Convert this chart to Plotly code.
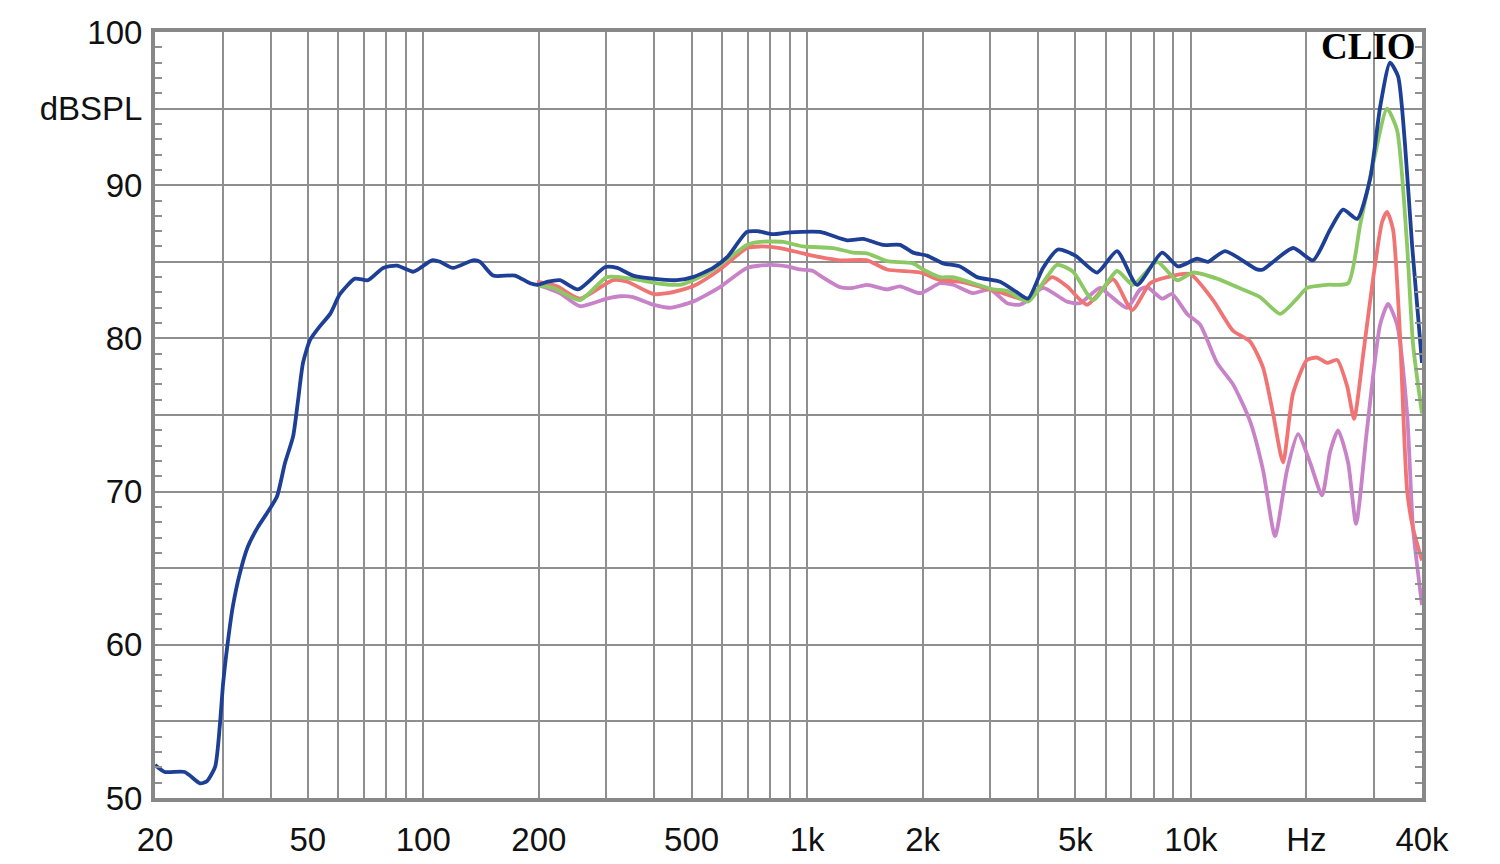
import plotly.graph_objects as go

# ---- data (frequency in Hz, level in dBSPL) ----
blue_f = [20, 21.2, 23.9, 26.2, 27.3, 28.7, 29.5, 30.1, 31.0, 31.9, 33.3, 34.9, 37.1, 39.4, 41.6, 43.6,
          45.8, 47.2, 48.6, 50.7, 53.8, 57.2, 60.7, 66.4, 71.8, 78.6, 85.4, 94.0, 96.9, 105.4, 110.6,
          119.5, 134.8, 140.6, 152, 173.4, 189.7, 199, 211, 227, 253, 298, 320, 352, 397, 458, 504,
          569, 619, 697, 741, 815, 887, 1081, 1271, 1399, 1577, 1747, 1888, 2053, 2260, 2502, 2772,
          3182, 3524, 3764, 4118, 4506, 5000, 5694, 6420, 7240, 8412, 9260, 10376, 11084, 12272,
          14868, 15414, 18452, 20808, 23044, 24916, 27096, 29296, 31110, 33024, 34652, 36136,
          37684, 40000]
blue_db = [52.15, 51.7, 51.7, 50.96, 51.1, 52.05, 54.7, 57.5, 60.3, 62.5, 64.7, 66.4, 67.7, 68.7, 69.7,
           71.85, 73.6, 76.0, 78.4, 79.9, 80.8, 81.6, 82.9, 83.9, 83.8, 84.6, 84.75, 84.35, 84.5, 85.1,
           85.0, 84.6, 85.1, 85.0, 84.1, 84.1, 83.6, 83.5, 83.7, 83.8, 83.2, 84.66, 84.6, 84.1, 83.9,
           83.8, 84.0, 84.6, 85.3, 86.95, 87.0, 86.8, 86.9, 86.95, 86.4, 86.5, 86.1, 86.1, 85.6, 85.4,
           84.9, 84.7, 84.0, 83.7, 83.0, 82.6, 84.6, 85.8, 85.4, 84.3, 85.7, 83.5, 85.6, 84.7, 85.2,
           85.0, 85.7, 84.5, 84.5, 85.9, 85.1, 87.1, 88.4, 87.8, 90.4, 95.1, 98.0, 97.1, 92.6, 86.1,
           78.4]

green_f = [198, 218, 256, 301, 346, 421, 467, 536, 593, 697, 754, 866, 976, 1168, 1317, 1433, 1615,
           1888, 2005, 2220, 2400, 2706, 3052, 3318, 3764, 4480, 4932, 5560, 6420, 7068, 8162, 9204,
           10130, 11698, 13190, 15140, 17070, 18900, 20074, 22632, 25674, 27590, 29828, 32436,
           34440, 36572, 37910, 40000]
green_db = [83.5, 83.3, 82.5, 84.0, 83.9, 83.55, 83.5, 84.1, 84.8, 86.1, 86.3, 86.3, 86.0, 85.9, 85.6,
            85.55, 85.05, 84.9, 84.5, 84.0, 84.0, 83.6, 83.2, 83.1, 82.4, 84.8, 84.35, 82.5, 84.4,
            83.5, 85.0, 83.8, 84.3, 83.9, 83.35, 82.7, 81.6, 82.6, 83.3, 83.5, 83.6, 87.4, 91.4, 95.0,
            93.6, 86.1, 79.6, 75.1]

red_f = [198, 223, 256, 312, 340, 397, 432, 504, 593, 697, 754, 850, 976, 1081, 1218, 1433, 1615,
         1969, 2220, 2502, 3182, 3588, 3764, 4346, 4756, 5364, 6268, 7026, 7828, 8668, 9950, 11420,
         12875, 14256, 15414, 16366, 17380, 18452, 20074, 21312, 22632, 24032, 25520, 26614, 28092,
         29828, 31486, 32436, 33624, 35068, 36572, 37910, 40000]
red_db = [83.7, 83.4, 82.6, 83.8, 83.7, 82.9, 82.95, 83.4, 84.5, 85.9, 86.0, 85.9, 85.55, 85.3, 85.1,
          85.1, 84.5, 84.3, 83.8, 83.7, 83.0, 82.6, 82.6, 84.0, 83.4, 82.2, 83.85, 81.85, 83.6, 84.0,
          84.2, 82.5, 80.5, 79.8, 78.1, 75.1, 71.9, 76.4, 78.6, 78.75, 78.4, 78.6, 76.9, 74.75, 78.9,
          83.9, 87.6, 88.25, 87.1, 80.1, 70.1, 67.6, 65.5]

purple_f = [198, 227, 256, 301, 326, 352, 397, 439, 504, 593, 697, 801, 887, 959, 1036, 1081, 1218,
            1317, 1433, 1615, 1747, 1969, 2220, 2400, 2706, 2996, 3318, 3588, 3764, 4118, 4756, 5142,
            5798, 6156, 6818, 7372, 7688, 8412, 8932, 9772, 10566, 11698, 12875, 14256, 15414, 16566,
            17800, 19014, 20438, 21964, 23044, 24178, 25674, 26934, 28774, 31110, 32632, 34440,
            36572, 37910, 40000]
purple_db = [83.5, 82.95, 82.1, 82.6, 82.75, 82.7, 82.2, 82.0, 82.4, 83.35, 84.6, 84.8, 84.7, 84.5,
             84.4, 84.1, 83.35, 83.3, 83.5, 83.2, 83.4, 82.95, 83.6, 83.5, 82.95, 83.2, 82.3, 82.2,
             82.5, 83.3, 82.4, 82.3, 83.3, 82.8, 82.0, 83.2, 83.35, 82.6, 82.9, 81.6, 80.9, 78.4, 77.0,
             74.6, 71.4, 67.1, 71.4, 73.75, 71.9, 69.75, 72.6, 74.0, 71.9, 67.9, 74.1, 80.9, 82.25,
             80.9, 75.1, 67.6, 62.6]

x_grid = [20, 30, 40, 50, 60, 70, 80, 90, 100, 200, 300, 400, 500, 600, 700, 800, 900,
          1000, 2000, 3000, 4000, 5000, 6000, 7000, 8000, 9000, 10000, 20000, 30000, 40000]
x_labels = {20: "20", 50: "50", 100: "100", 200: "200", 500: "500", 1000: "1k", 2000: "2k",
            5000: "5k", 10000: "10k", 20000: "Hz", 40000: "40k"}
y_vals = [50, 55, 60, 65, 70, 75, 80, 85, 90, 95, 100]
y_labels = {50: "50", 60: "60", 70: "70", 80: "80", 90: "90", 95: "dBSPL", 100: "100"}

series = [
    (purple_f, purple_db, "#c882c8"),
    (red_f, red_db, "#f07474"),
    (green_f, green_db, "#8cc864"),
    (blue_f, blue_db, "#1e3f96"),
]

fig = go.Figure()
for fx, fy, col in series:
    fig.add_trace(go.Scatter(x=fx, y=fy, mode="lines",
                             line=dict(color=col, width=3.8, shape="spline", smoothing=0.6),
                             showlegend=False, hoverinfo="skip"))

grid_col = "#8f8f8f"
font = dict(family="Liberation Sans, Arial, sans-serif", size=33, color="#111111")

fig.update_layout(
    width=1500, height=864,
    margin=dict(l=155, r=78, t=32, b=66, autoexpand=False),
    paper_bgcolor="white", plot_bgcolor="white",
    font=font,
)
fig.update_xaxes(
    type="log", range=[1.30103, 4.60206],
    tickmode="array", tickvals=x_grid,
    ticktext=[x_labels.get(v, "") for v in x_grid],
    showgrid=True, gridcolor=grid_col, gridwidth=2,
    showline=True, linecolor="#888888", linewidth=4, mirror=True,
    ticks="", ticklabelstandoff=9, tickfont=font, zeroline=False, automargin=False,
)
fig.update_yaxes(
    range=[50, 100],
    tickmode="array", tickvals=y_vals,
    ticktext=[y_labels.get(v, "") for v in y_vals],
    showgrid=True, gridcolor=grid_col, gridwidth=2,
    showline=True, linecolor="#888888", linewidth=4, mirror="allticks",
    ticks="inside", ticklen=7, tickcolor=grid_col, tickwidth=1.5,
    minor=dict(dtick=1, ticks="inside", ticklen=7, tickcolor=grid_col, tickwidth=1.5, showgrid=False),
    ticklabelstandoff=2, tickfont=font, zeroline=False, automargin=False,
)
fig.add_annotation(
    xref="paper", yref="paper", x=1, y=1, xanchor="right", yanchor="top",
    xshift=-4, yshift=8, text="<b>CLIO</b>", showarrow=False,
    font=dict(family="Liberation Serif, Times New Roman, serif", size=37, color="black"),
)

fig.write_html("out.html", config={"displayModeBar": False},
               post_script="document.body.style.margin='0px';document.body.style.overflow='hidden';")
